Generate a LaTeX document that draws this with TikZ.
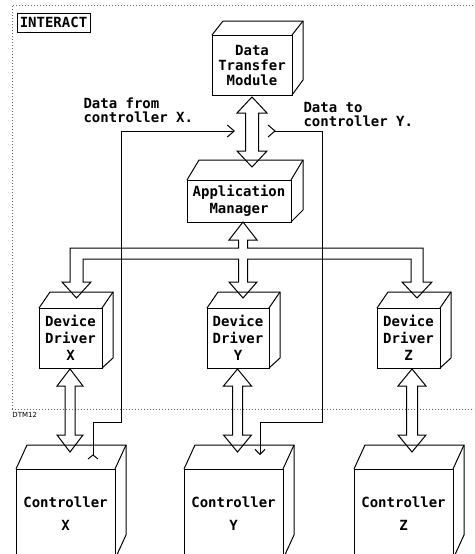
\documentclass[tikz,border=0pt]{standalone}
\usepackage{fontspec}
\setmonofont{DejaVu Sans Mono}
\newfontfamily\smallsans{DejaVu Sans}
\usetikzlibrary{arrows.meta,calc}
% cube faces: name, dx, dy top, dy bottom
\newcommand\cubefaces[4]{%
  \draw (#1.north west) -- ++(#2,-#3) -- ([shift={(#2,-#3)}]#1.north east)
        -- ([shift={(#2,-#4)}]#1.south east) -- (#1.south east);
  \draw (#1.north east) -- ++(#2,-#3);}
% hollow vertical double arrow: top tip, bottom tip, shaft half, head half, head length
\newcommand\vdbl[5]{%
  \draw[hollow] let \p1=(#1), \p2=(#2) in
    (\x1,\y1) -- (\x1+#4,\y1-#5) -- (\x1+#3,\y1-#5) -- (\x1+#3,\y2+#5)
    -- (\x1+#4,\y2+#5) -- (\x1,\y2) -- (\x1-#4,\y2+#5) -- (\x1-#3,\y2+#5)
    -- (\x1-#3,\y1-#5) -- (\x1-#4,\y1-#5) -- cycle;}
\begin{document}
\begin{tikzpicture}[x=1pt,y=-1pt,line width=1pt,
  box/.style={draw,outer sep=0pt,inner sep=0pt,align=center,
    font=\ttfamily\bfseries\fontsize{14}{17}\selectfont},
  lbl/.style={inner sep=0pt,align=left,
    font=\ttfamily\bfseries\fontsize{14}{14}\selectfont},
  hollow/.style={draw,line width=1pt,line join=miter},
  framedot/.style={black!60,line width=1pt,dash pattern=on 1pt off 2pt},
  dataline/.style={draw,line width=1pt}]
\useasboundingbox (0,0) rectangle (474,554);
\clip (0,0) rectangle (474,554);

% dotted frame
\draw[framedot] (12,409) -- (12,5) -- (474,5);
\draw[framedot] (12,409) -- (474,409);
\node[draw,outer sep=0pt,inner sep=0pt,minimum width=73pt,minimum height=19pt,
  font=\ttfamily\bfseries\fontsize{14}{17}\selectfont] (title) at (53.5,22.5) {INTERACT};
\node[inner sep=0pt,anchor=west,font=\smallsans\fontsize{7}{8}\selectfont] (tag) at (12,414.5) {DTM12};

% boxes
\node[box,minimum width=80pt,minimum height=60pt] (dtm) at (252,65) {Data\\[-2pt]Transfer\\[-2pt]Module};
\cubefaces{dtm}{11}{14}{15}
\node[box,minimum width=104pt,minimum height=42pt] (am) at (239,201) {Application\\Manager};
\cubefaces{am}{12}{20}{12}
\node[box,minimum width=63pt,minimum height=60pt] (ddx) at (70.5,338) {Device\\Driver\\X};
\cubefaces{ddx}{11}{16}{10}
\node[box,minimum width=62pt,minimum height=60pt] (ddy) at (238,338) {Device\\Driver\\Y};
\cubefaces{ddy}{11}{16}{10}
\node[box,minimum width=63pt,minimum height=60pt] (ddz) at (408.5,338) {Device\\Driver\\Z};
\cubefaces{ddz}{11}{16}{10}
\node[box,minimum width=99pt,minimum height=90pt] (cx) at (65.5,514) {Controller\\[6pt]X};
\cubefaces{cx}{11}{24}{24}
\node[box,minimum width=99pt,minimum height=90pt] (cy) at (233.5,514) {Controller\\[6pt]Y};
\cubefaces{cy}{11}{24}{24}
\node[box,minimum width=99pt,minimum height=90pt] (cz) at (403.5,514) {Controller\\[6pt]Z};
\cubefaces{cz}{11}{24}{24}

% double arrows
\coordinate (a1t) at (252,97);   \coordinate (a1b) at (252,167);
\vdbl{a1t}{a1b}{6.5pt}{15pt}{16pt}
\coordinate (axt) at (70,369);   \coordinate (axb) at (70,452);
\vdbl{axt}{axb}{5pt}{13pt}{17pt}
\coordinate (ayt) at (237.5,369); \coordinate (ayb) at (237.5,452);
\vdbl{ayt}{ayb}{5pt}{14pt}{17pt}
\coordinate (azt) at (412,369);  \coordinate (azb) at (412,452);
\vdbl{azt}{azb}{5.5pt}{14pt}{17pt}

% bus from application manager to device drivers
\draw[hollow] (243,222) -- (257,240) -- (247.5,240) -- (247.5,248) -- (423,248)
  -- (423,282) -- (432,282) -- (417,298) -- (402,282) -- (411,282) -- (411,259)
  -- (247.5,259) -- (247.5,282) -- (257,282) -- (243,298) -- (229,282)
  -- (238.5,282) -- (238.5,259) -- (83,259) -- (83,282) -- (91,282) -- (76.5,298)
  -- (62,282) -- (70,282) -- (70,248) -- (238.5,248) -- (238.5,240) -- (229,240) -- cycle;

% data lines
\draw[dataline,-{Straight Barb[length=7pt,width=12pt]}]
  (93,455) -- (93,422) -- (121,422) -- (121,131) -- (235,131);
\draw (88,459) -- (93,455) -- (98,459);
\draw[dataline,-{Straight Barb[length=5pt,width=10pt]}]
  (275,131) -- (322,131) -- (322,422) -- (260,422) -- (260,455);
\draw (268,125) -- (275,131) -- (268,137);

% labels
\node[lbl,anchor=west] (lx) at (83,110) {Data from\\controller X.};
\node[lbl,anchor=west] (ly) at (303,114) {Data to\\controller Y.};
\end{tikzpicture}
\end{document}
